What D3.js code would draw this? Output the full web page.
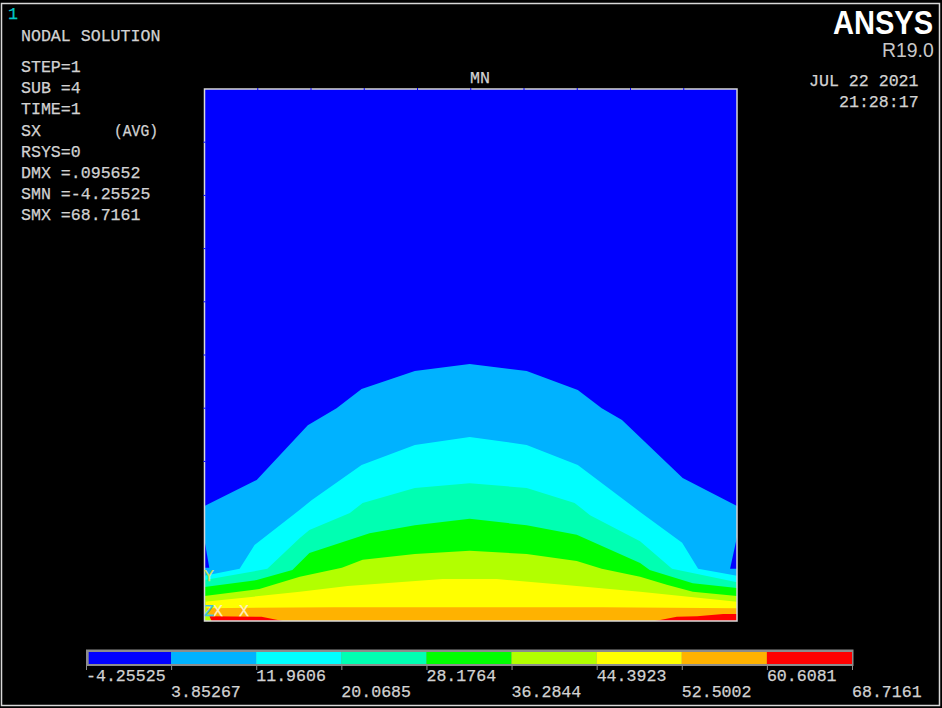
<!DOCTYPE html>
<html>
<head>
<meta charset="utf-8">
<script src="https://cdn.jsdelivr.net/npm/d3@7"></script>
<style>
html, body { margin: 0; padding: 0; background: #000; }
svg { display: block; }
text { font-family: "Liberation Mono", monospace; font-size: 16.6px; fill: #d2d2d2; stroke: #d2d2d2; stroke-width: .25px; }
</style>
</head>
<body>
<div id="plot"></div>
<script>
// contour levels of SX, also the legend ticks
const levels = [-4.25525, 3.85267, 11.9606, 20.0685, 28.1764, 36.2844, 44.3923, 52.5002, 60.6081, 68.7161];
const levelLabels = ["-4.25525", "3.85267", "11.9606", "20.0685", "28.1764", "36.2844", "44.3923", "52.5002", "60.6081", "68.7161"];
const bandColors = ["#0000ff", "#00b2ff", "#00ffff", "#00ffb2", "#00ff00", "#b2ff00", "#ffff00", "#ffb200", "#ff0000"];

const infoLines = ["STEP=1", "SUB =4", "TIME=1", "SX", "RSYS=0", "DMX =.095652", "SMN =-4.25525", "SMX =68.7161"];

// top edge of each band, model coords [x, y]
const edgeLightBlue = [[0,2.16],[.98,2.65],[1.94,3.68],[2.48,4.00],[2.95,4.36],[3.95,4.70],[4.98,4.83],[6.05,4.70],[7.01,4.34],[7.46,4.00],[7.84,3.78],[8.98,2.69],[10,2.16]];
const edgeCyan = [[0,.85],[.66,.98],[.94,1.43],[1.79,2.09],[2.01,2.27],[2.95,2.93],[3.95,3.31],[4.98,3.46],[6.05,3.31],[7.01,2.93],[8.18,2.05],[8.97,1.47],[9.27,.98],[10,.85]];
const edgeSpring = [[0,.77],[1.18,.98],[1.79,1.56],[1.97,1.71],[2.73,2.03],[2.97,2.22],[3.95,2.50],[4.98,2.59],[6.05,2.50],[6.95,2.22],[7.24,1.99],[8.18,1.50],[8.78,.98],[10,.73]];
const edgeGreen = [[0,.64],[.98,.77],[1.65,.96],[1.97,1.28],[3.10,1.65],[3.95,1.80],[4.98,1.92],[6.05,1.80],[6.99,1.62],[8.18,1.09],[8.36,.96],[9.17,.71],[10,.62]];
const edgeLime = [[0,.47],[1.03,.60],[1.79,.83],[2.58,1.00],[2.97,1.15],[3.95,1.26],[4.98,1.32],[6.05,1.26],[6.99,1.13],[7.46,.98],[8.18,.83],[8.68,.68],[9.17,.55],[10,.47]];
const edgeYellow = [[0,.36],[1.79,.55],[2.69,.66],[4.47,.79],[5.49,.79],[6.73,.68],[8.18,.55],[10,.36]];
const edgeOrange = [[0,.24],[2.44,.26],[7.48,.26],[10,.24]];

// small closed patches
const redLeft = [[.09,.09],[1.07,.08],[1.47,0],[.13,0]];
const redRight = [[8.46,0],[8.87,.08],[9.25,.09],[9.74,.13],[10,.13],[10,0]];
const blueLeft = [[0,1.52],[.09,1.00],[0,1.00]];
const blueRight = [[10,1.58],[9.87,.98],[10,.98]];
const limeCorner = [[0,.47],[.04,.24],[.09,.09],[.13,0],[0,0]];

const meshTicks = d3.range(1, 10);

const W = 942, H = 708;
const svg = d3.select("#plot").append("svg").attr("width", W).attr("height", H);

// outer window frame
svg.append("rect")
  .attr("x", 1.5).attr("y", 3.5).attr("width", 938).attr("height", 702)
  .attr("fill", "none").attr("stroke", "#d8d8d8").attr("stroke-width", 1.5);

const x = d3.scaleLinear().domain([0, 10]).range([204.5, 737]);
const y = d3.scaleLinear().domain([0, 10]).range([621, 89]);
const line = d3.line().x(d => x(d[0])).y(d => y(d[1]));
const closed = d => line(d) + "Z";
const toBase = e => closed([[0, 0], ...e, [10, 0]]);

// model, painted from the top band down
svg.append("rect")
  .attr("x", x(0)).attr("y", y(10))
  .attr("width", x(10) - x(0)).attr("height", y(0) - y(10))
  .attr("fill", bandColors[0]);

const edges = [edgeLightBlue, edgeCyan, edgeSpring, edgeGreen, edgeLime, edgeYellow, edgeOrange];
svg.selectAll(".band").data(edges).enter().append("path")
  .attr("class", "band")
  .attr("d", toBase)
  .attr("fill", (d, i) => bandColors[i + 1]);

const patches = [[redLeft, 8], [redRight, 8], [blueLeft, 0], [blueRight, 0], [limeCorner, 5]];
patches.forEach(([pts, c]) => {
  svg.append("path").attr("d", closed(pts)).attr("fill", bandColors[c]);
});

// model outline
svg.append("rect")
  .attr("x", x(0)).attr("y", y(10))
  .attr("width", x(10) - x(0)).attr("height", y(0) - y(10))
  .attr("fill", "none").attr("stroke", "#d8d8d8").attr("stroke-width", 1.5);

// element divisions show up as blue nicks along the outline
svg.selectAll(".nick-top").data(meshTicks).enter().append("line")
  .attr("class", "nick-top")
  .attr("x1", d => x(d)).attr("x2", d => x(d))
  .attr("y1", y(10) - 1).attr("y2", y(10) + 1)
  .attr("stroke", "#0000ff");
svg.selectAll(".nick-left").data(meshTicks.filter(d => d >= 3)).enter().append("line")
  .attr("class", "nick-left")
  .attr("y1", d => y(d)).attr("y2", d => y(d))
  .attr("x1", x(0) - 1).attr("x2", x(0) + 1)
  .attr("stroke", "#0000ff");

// legend
const lx = d3.scaleLinear().domain(d3.extent(levels)).range([86, 852]);
const legend = svg.append("g");
legend.append("rect")
  .attr("x", lx(levels[0])).attr("y", 649.5)
  .attr("width", lx(levels[9]) - lx(levels[0]) + 1.5).attr("height", 16.5)
  .attr("fill", "#8c8c8c");
legend.selectAll(".seg").data(bandColors).enter().append("rect")
  .attr("class", "seg")
  .attr("x", (d, i) => lx(levels[i]) + (i === 0 ? 2.7 : 0))
  .attr("y", 652).attr("height", 12)
  .attr("width", (d, i) => lx(levels[i + 1]) - lx(levels[i]) - (i === 0 ? 2.7 : 0))
  .attr("fill", d => d);
legend.selectAll(".tk").data(levels).enter().append("line")
  .attr("class", "tk")
  .attr("x1", d => lx(d) + .5).attr("x2", d => lx(d) + .5)
  .attr("y1", 666).attr("y2", 670)
  .attr("stroke", "#8c8c8c");
legend.selectAll(".lb").data(levelLabels).enter().append("text")
  .attr("class", "lb")
  .attr("x", (d, i) => lx(levels[i]))
  .attr("y", (d, i) => i % 2 ? 697 : 681)
  .text(d => d);

// text block
svg.append("text").attr("x", 8).attr("y", 19).style("fill", "#00c8c8").style("stroke", "#00c8c8").text("1");
svg.append("text").attr("x", 21).attr("y", 41).text("NODAL SOLUTION");
svg.selectAll(".info").data(infoLines).enter().append("text")
  .attr("class", "info")
  .attr("x", 21)
  .attr("y", (d, i) => 72 + i * 21.2)
  .text(d => d);
svg.append("text").attr("x", 114).attr("y", 136)
  .attr("textLength", 44).attr("lengthAdjust", "spacingAndGlyphs")
  .text("(AVG)");
svg.append("text").attr("x", 470).attr("y", 83).text("MN");
svg.append("text").attr("x", 809).attr("y", 86).text("JUL 22 2021");
svg.append("text").attr("x", 839).attr("y", 107).text("21:28:17");
// squeezed horizontally, the logo face is narrower than Liberation Sans
svg.append("text")
  .attr("transform", "translate(833,33.5) scale(0.855,1)")
  .style("font-family", "'Liberation Sans', sans-serif").style("font-weight", "bold").style("font-size", "34px")
  .style("fill", "#fff").style("stroke", "none")
  .text("ANSYS");
svg.append("text")
  .attr("transform", "translate(882,57) scale(0.97,1)")
  .style("font-family", "'Liberation Sans', sans-serif").style("font-size", "20px")
  .style("fill", "#c8c8c8").style("stroke", "none")
  .text("R19.0");

// triad markers at the origin
const triad = [["X", 218, 616, "#fff0c0"], ["X", 244, 616, "#fff0c0"], ["Y", 209, 581, "#c8e060"], ["Z", 209, 616, "#40c0e0"]];
svg.selectAll(".triad").data(triad).enter().append("text")
  .attr("class", "triad")
  .attr("x", d => d[1]).attr("y", d => d[2])
  .attr("text-anchor", "middle")
  .style("fill", d => d[3])
  .style("stroke", d => d[3])
  .text(d => d[0]);
</script>
</body>
</html>
